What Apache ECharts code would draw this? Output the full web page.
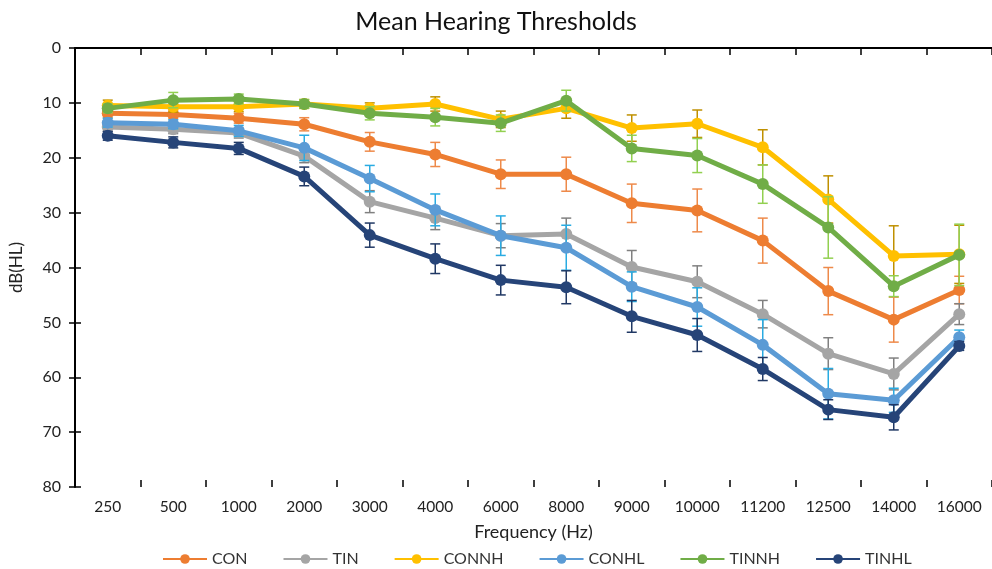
<!DOCTYPE html>
<html>
<head>
<meta charset="utf-8">
<script src="https://cdn.jsdelivr.net/npm/echarts@6/dist/echarts.min.js"></script>
<style>
  html, body { margin: 0; padding: 0; background: #fff; }
  #chart { width: 992px; height: 569px; }
</style>
</head>
<body>
<div id="chart"></div>
<script>
const frequencies = ['250', '500', '1000', '2000', '3000', '4000', '6000', '8000', '9000', '10000', '11200', '12500', '14000', '16000']

// mean thresholds, dB(HL)
const conMean   = [11.9, 12.1, 12.8, 13.9, 17.1, 19.4, 23.0, 23.0, 28.3, 29.6, 35.1, 44.3, 49.5, 44.1]
const tinMean   = [14.4, 14.8, 15.5, 19.7, 28.0, 31.0, 34.2, 33.9, 39.9, 42.6, 48.5, 55.7, 59.4, 48.5]
const conNHMean = [10.5, 10.7, 10.7, 10.2, 11.0, 10.2, 13.0, 11.0, 14.6, 13.8, 18.1, 27.6, 37.9, 37.6]
const conHLMean = [13.6, 13.9, 15.1, 18.2, 23.8, 29.5, 34.2, 36.4, 43.5, 47.2, 54.1, 63.0, 64.2, 52.7]
const tinNHMean = [11.0, 9.5, 9.3, 10.2, 11.9, 12.6, 13.7, 9.6, 18.3, 19.6, 24.8, 32.7, 43.4, 37.7]
const tinHLMean = [16.0, 17.2, 18.3, 23.4, 34.1, 38.4, 42.3, 43.6, 48.9, 52.3, 58.5, 65.9, 67.3, 54.3]

// error bar half-widths
const conErr   = [0.8, 0.8, 0.9, 1.2, 1.7, 2.2, 2.6, 3.1, 3.5, 3.9, 4.1, 4.3, 4.1, 2.5]
const tinErr   = [0.8, 0.8, 0.9, 1.2, 2.0, 2.1, 2.2, 2.9, 3.0, 2.9, 2.5, 2.9, 2.9, 1.9]
const conNHErr = [1.0, 1.0, 0.9, 0.8, 1.0, 1.3, 1.5, 1.8, 2.4, 2.5, 3.2, 4.3, 5.5, 5.3]
const conHLErr = [0.8, 0.8, 1.0, 2.3, 2.4, 2.9, 3.6, 4.1, 2.7, 3.5, 4.6, 4.6, 2.2, 1.3]
const tinNHErr = [0.8, 1.4, 0.9, 0.8, 1.2, 1.6, 1.5, 1.9, 2.4, 3.1, 3.5, 5.6, 1.9, 5.6]
const tinHLErr = [0.8, 1.0, 1.1, 1.7, 2.2, 2.7, 2.7, 3.0, 2.9, 3.0, 2.1, 1.8, 2.3, 0.8]

const groups = [
  { name: 'CON',   mean: conMean,   err: conErr,   color: '#ED7D31', errColor: '#EE8A4A' },
  { name: 'TIN',   mean: tinMean,   err: tinErr,   color: '#A5A5A5', errColor: '#808080' },
  { name: 'CONNH', mean: conNHMean, err: conNHErr, color: '#FFC000', errColor: '#BF9000' },
  { name: 'CONHL', mean: conHLMean, err: conHLErr, color: '#5B9BD5', errColor: '#29ABE2' },
  { name: 'TINNH', mean: tinNHMean, err: tinNHErr, color: '#70AD47', errColor: '#92D050' },
  { name: 'TINHL', mean: tinHLMean, err: tinHLErr, color: '#264478', errColor: '#203864' }
]

const fontFamily = 'Lato, "Open Sans", sans-serif'
const gridLeft = 75, gridRight = 0, gridTop = 48, gridBottom = 82
const gridW = 992 - gridLeft - gridRight
const gridH = 569 - gridTop - gridBottom

function renderErrorBar(params, api) {
  const lo = api.coord([api.value(0), api.value(1)])
  const hi = api.coord([api.value(0), api.value(2)])
  const cap = 5
  const style = { stroke: api.visual('color'), lineWidth: 1.5 }
  return {
    type: 'group',
    children: [
      { type: 'line', shape: { x1: lo[0], y1: lo[1], x2: hi[0], y2: hi[1] }, style },
      { type: 'line', shape: { x1: lo[0] - cap, y1: lo[1], x2: lo[0] + cap, y2: lo[1] }, style },
      { type: 'line', shape: { x1: hi[0] - cap, y1: hi[1], x2: hi[0] + cap, y2: hi[1] }, style }
    ]
  }
}

const lineSeries = groups.map((g, i) => ({
  name: g.name,
  type: 'line',
  data: g.mean,
  symbol: 'circle',
  symbolSize: 12,
  lineStyle: { width: 5, color: g.color },
  itemStyle: { color: g.color },
  z: 2 + i
}))

// top border line at 0 dB
lineSeries[0].markLine = {
  silent: true,
  symbol: 'none',
  label: { show: false },
  lineStyle: { color: '#000', width: 2, type: 'solid' },
  data: [{ yAxis: 0 }]
}

const errorSeries = groups.map((g, i) => ({
  name: g.name,
  type: 'custom',
  renderItem: renderErrorBar,
  itemStyle: { color: g.errColor },
  data: g.mean.map((m, k) => [k, m - g.err[k], m + g.err[k]]),
  z: 2 + i,
  silent: true
}))

const yBase = {
  type: 'value',
  min: 0,
  max: 80,
  interval: 10,
  inverse: true,
  splitLine: { show: false }
}

const xBase = {
  type: 'category',
  data: frequencies,
  boundaryGap: true
}

const chart = echarts.init(document.getElementById('chart'))

chart.setOption({
  animation: false,
  textStyle: { fontFamily },
  title: {
    text: 'Mean Hearing Thresholds',
    left: 'center',
    top: 4,
    textStyle: { fontSize: 25, fontWeight: 'normal', color: '#111', fontFamily }
  },
  legend: {
    data: groups.map(g => g.name),
    left: 157,
    top: 546,
    itemWidth: 44,
    itemHeight: 12,
    itemGap: 35,
    textStyle: { fontSize: 16, color: '#333', fontFamily }
  },
  grid: { left: gridLeft, right: gridRight, top: gridTop, bottom: gridBottom },
  xAxis: [
    {
      ...xBase,
      position: 'bottom',
      name: 'Frequency (Hz)',
      nameLocation: 'middle',
      nameGap: 36,
      nameTextStyle: { fontSize: 18, color: '#222', fontFamily },
      axisLine: { lineStyle: { color: '#000', width: 2 } },
      axisTick: { show: true, length: 7, lineStyle: { color: '#000', width: 1.5 } },
      axisLabel: { fontSize: 15.5, color: '#222', margin: 12, interval: 0, fontFamily }
    },
    {
      // inward half of the crossing ticks
      ...xBase,
      position: 'top',
      offset: -gridH,
      axisLine: { show: false },
      axisTick: { show: true, length: 7, lineStyle: { color: '#000', width: 1.5 } },
      axisLabel: { show: false }
    }
  ],
  yAxis: [
    {
      ...yBase,
      position: 'left',
      name: 'dB(HL)',
      nameLocation: 'middle',
      nameGap: 50,
      nameTextStyle: { fontSize: 17, color: '#222', fontFamily },
      axisLine: { show: true, lineStyle: { color: '#000', width: 2 } },
      axisTick: { show: true, length: 6, lineStyle: { color: '#000', width: 1.5 } },
      axisLabel: { fontSize: 16, color: '#222', margin: 14, fontFamily }
    },
    {
      ...yBase,
      position: 'right',
      offset: -gridW,
      axisLine: { show: false },
      axisTick: { show: true, length: 6, lineStyle: { color: '#000', width: 1.5 } },
      axisLabel: { show: false }
    }
  ],
  series: [...lineSeries, ...errorSeries]
})

window.addEventListener('resize', () => chart.resize())
</script>
</body>
</html>
